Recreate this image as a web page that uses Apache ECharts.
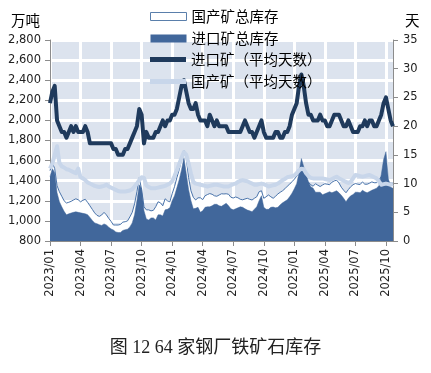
<!DOCTYPE html>
<html>
<head>
<meta charset="utf-8">
<script src="https://cdn.jsdelivr.net/npm/echarts@6/dist/echarts.min.js"></script>
<style>
html,body{margin:0;padding:0;background:#fff;}
#c{width:431px;height:373px;}
</style>
</head>
<body>
<div id="c"></div>
<script>
// Weekly dates starting 2023-01-06 (147 weeks)
var startDate = '2023-01-06';
var weekCount = 147;
var tickLabelEvery = 13;

var seriesNames = ['国产矿总库存', '进口矿总库存', '进口矿（平均天数）', '国产矿（平均天数）'];

// 国产矿总库存 (万吨, left axis)
var domesticTotal = [
1500,1580,1520,1350,1290,1245,1200,1178,1185,1195,1208,1220,1210,1190,1205,1215,1185,1150,1115,1080,
1055,1045,1059,1085,1060,1025,995,959,959,959,965,988,992,1000,1040,1085,1170,1290,1430,1310,
1141,1110,1110,1100,1105,1141,1190,1180,1150,1220,1200,1190,1270,1340,1430,1510,1610,1700,1620,1430,
1300,1235,1208,1230,1230,1212,1250,1262,1272,1265,1250,1245,1258,1270,1268,1270,1265,1235,1228,1238,
1230,1215,1210,1218,1225,1215,1208,1225,1240,1290,1300,1225,1240,1258,1240,1225,1245,1268,1285,1300,
1320,1345,1365,1390,1415,1445,1480,1560,1520,1407,1385,1360,1345,1370,1355,1342,1357,1370,1365,1360,
1385,1398,1405,1378,1335,1305,1280,1312,1340,1360,1372,1365,1362,1388,1365,1365,1375,1388,1380,1380,
1405,1440,1455,1440,1395,1375,1374
];

// 进口矿总库存 (万吨, left axis)
var importTotal = [
1440,1520,1480,1280,1190,1140,1095,1060,1070,1078,1085,1090,1085,1080,1075,1070,1062,1035,1005,980,
972,962,955,970,960,938,920,909,890,884,885,905,912,918,940,980,1060,1200,1360,1320,
1100,1020,1010,1030,1030,1009,1060,1060,1050,1110,1115,1130,1200,1250,1330,1410,1510,1630,1470,1310,
1200,1120,1125,1135,1085,1100,1135,1140,1140,1150,1165,1165,1150,1145,1160,1175,1150,1120,1110,1120,
1130,1140,1135,1120,1108,1100,1092,1115,1140,1200,1250,1135,1115,1115,1135,1138,1130,1135,1160,1180,
1195,1210,1240,1275,1320,1370,1480,1620,1540,1465,1390,1340,1326,1285,1285,1285,1260,1270,1280,1290,
1280,1290,1300,1280,1255,1225,1190,1225,1250,1262,1285,1285,1280,1305,1290,1280,1292,1305,1315,1325,
1350,1460,1610,1689,1420,1335,1324
];

// 进口矿（平均天数） (天, right axis)
var importDays = [
24,26,27,21,20,19,19,18,19,20,19,20,19,19,19,20,19,17,17,17,
17,17,17,17,17,17,17,16,16,15,15,15,16,16,17,18,19,20,23,22,
17,19,18,18,18,19,19,20,21,20,21,21,22,22,23,25,27,28,26,24,
23,23,24,22,21,21,21,20,22,21,20,21,20,20,20,20,19,19,19,19,
19,19,20,21,20,19,19,18,19,20,21,19,18,18,18,18,19,19,18,18,
19,19,20,22,23,24,27,29,27,24,22,22,21,21,21,22,21,21,20,20,
21,22,22,22,21,20,20,21,20,19,19,19,20,20,21,20,21,21,20,20,
21,22,24,25,23,21,20
];

// 国产矿（平均天数） (天, right axis)
var domesticDays = [
12.6,13.5,15.0,16.5,13.6,13.0,12.8,12.5,12.4,12.2,12.0,11.8,12.6,11.1,10.9,10.6,10.2,10.0,9.8,9.6,
9.5,9.4,9.5,9.6,9.8,9.5,9.3,9.1,8.9,8.7,8.6,8.6,8.6,8.7,8.8,9.0,9.5,10.0,10.6,11.1,
11.0,9.7,9.4,9.2,9.2,9.2,9.3,9.4,9.5,9.6,9.8,10.0,10.4,11.3,12.3,13.4,14.5,15.5,15.0,13.5,
11.7,10.3,10.0,9.9,9.8,9.7,9.6,9.5,9.6,9.7,9.8,9.8,9.7,9.6,9.5,9.5,9.5,9.7,9.9,10.0,
10.3,10.5,10.6,10.5,10.4,10.2,10.0,9.8,9.8,9.9,10.0,9.9,9.7,9.5,9.6,9.7,9.8,10.0,10.3,10.6,
10.8,11.1,11.2,11.3,11.4,11.8,12.3,12.6,12.5,11.8,11.3,11.0,10.9,10.9,10.9,10.9,10.9,10.8,10.7,10.6,
10.8,11.0,11.2,10.9,10.7,10.5,10.3,10.1,10.3,10.9,11.5,11.4,11.3,11.2,11.3,11.4,11.5,11.3,11.1,10.9,
10.4,9.8,9.9,10.0,9.9,9.8,9.9
];

var leftTicks = {min: 800, max: 2800, interval: 200};
var rightTicks = {min: 0, max: 35, interval: 5};
var titleText = '图 12 64 家钢厂铁矿石库存';

// build category dates
var dates = [];
(function(){
  var d = new Date(startDate + 'T00:00:00Z');
  for (var i = 0; i < weekCount; i++) {
    var y = d.getUTCFullYear(), m = d.getUTCMonth() + 1;
    dates.push(y + '/' + (m < 10 ? '0' + m : m));
    d = new Date(d.getTime() + 7 * 86400000);
  }
})();

var font = '"DejaVu Sans", Verdana, sans-serif';
var cjk = '"Noto Sans CJK SC", "Noto Sans", sans-serif';
var axisGray = '#8c8c8c';

var chart = echarts.init(document.getElementById('c'), null, {renderer: 'canvas'});
chart.setOption({
  animation: false,
  backgroundColor: '#ffffff',
  title: {
    text: titleText,
    left: 'center',
    top: 334,
    textStyle: {fontFamily: '"Liberation Serif", "Noto Sans CJK SC", serif', fontSize: 18, fontWeight: 'normal', color: '#222'}
  },
  legend: [{
    orient: 'vertical', left: 145, top: 3, z: 10,
    itemWidth: 36, itemHeight: 8, itemGap: 5,
    textStyle: {fontFamily: cjk, fontSize: 14.5, color: '#000', lineHeight: 17},
    data: [
      {name: seriesNames[0], icon: 'rect', itemStyle: {color: '#ffffff', borderColor: '#5a7fab', borderWidth: 1}},
      {name: seriesNames[1], icon: 'rect', itemStyle: {color: '#41679b', borderWidth: 0}}
    ]
  }, {
    orient: 'vertical', left: 145, top: 46, z: 10,
    itemWidth: 36, itemHeight: 5, itemGap: 5,
    textStyle: {fontFamily: cjk, fontSize: 14.5, color: '#000', lineHeight: 17},
    data: [
      {name: seriesNames[2], icon: 'rect', itemStyle: {color: '#1f3a5c', borderWidth: 0}},
      {name: seriesNames[3], icon: 'rect', itemStyle: {color: '#c8d6ea', borderWidth: 0}}
    ]
  }],
  grid: {
    left: 50, right: 38, top: 40, bottom: 132,
    show: true, backgroundColor: '#dce3ee', borderWidth: 0
  },
  xAxis: {
    type: 'category',
    data: dates,
    boundaryGap: false,
    axisLine: {show: true, lineStyle: {color: axisGray, width: 1}},
    axisTick: {show: true, interval: tickLabelEvery - 1, length: 5, lineStyle: {color: axisGray}},
    axisLabel: {interval: tickLabelEvery - 1, rotate: 90, fontFamily: font, fontSize: 11.5, color: '#222', margin: 8},
    splitLine: {show: true, interval: tickLabelEvery - 1, lineStyle: {color: '#ffffff', width: 3}}
  },
  yAxis: [{
    type: 'value',
    min: leftTicks.min, max: leftTicks.max, interval: leftTicks.interval,
    name: '万吨',
    nameLocation: 'end',
    nameGap: 20,
    nameTextStyle: {fontFamily: cjk, fontSize: 14.5, color: '#000', align: 'right', verticalAlign: 'middle', padding: [0, 10, 0, 0]},
    axisLine: {show: true, lineStyle: {color: axisGray, width: 1}},
    axisTick: {show: true, length: 5, lineStyle: {color: axisGray}},
    axisLabel: {fontFamily: font, fontSize: 11.5, color: '#222', margin: 9},
    splitLine: {show: true, lineStyle: {color: '#ffffff', width: 3}}
  }, {
    type: 'value',
    min: rightTicks.min, max: rightTicks.max, interval: rightTicks.interval,
    name: '天',
    nameLocation: 'end',
    nameGap: 20,
    nameTextStyle: {fontFamily: cjk, fontSize: 14.5, color: '#000', align: 'left', verticalAlign: 'middle', padding: [0, 0, 0, 12]},
    axisLine: {show: true, lineStyle: {color: axisGray, width: 1}},
    axisTick: {show: true, length: 5, lineStyle: {color: axisGray}},
    axisLabel: {fontFamily: font, fontSize: 11.5, color: '#222', margin: 10},
    splitLine: {show: false}
  }],
  series: [{
    name: seriesNames[0],
    type: 'line',
    yAxisIndex: 0,
    data: domesticTotal,
    symbol: 'none',
    lineStyle: {color: '#4a74ab', width: 1},
    itemStyle: {color: '#ffffff'},
    areaStyle: {color: '#ffffff', opacity: 1, origin: 'start'},
    z: 2
  }, {
    name: seriesNames[1],
    type: 'line',
    yAxisIndex: 0,
    data: importTotal,
    symbol: 'none',
    lineStyle: {color: '#41679b', width: 0.5},
    itemStyle: {color: '#41679b'},
    areaStyle: {color: '#41679b', opacity: 1, origin: 'start'},
    z: 3
  }, {
    name: seriesNames[2],
    type: 'line',
    yAxisIndex: 1,
    data: importDays,
    symbol: 'none',
    lineStyle: {color: '#1f3a5c', width: 4, join: 'round'},
    itemStyle: {color: '#1f3a5c'},
    z: 4
  }, {
    name: seriesNames[3],
    type: 'line',
    yAxisIndex: 1,
    data: domesticDays,
    symbol: 'none',
    lineStyle: {color: '#c8d6ea', width: 4, join: 'round'},
    itemStyle: {color: '#c8d6ea'},
    z: 4
  }]
});
</script>
</body>
</html>
